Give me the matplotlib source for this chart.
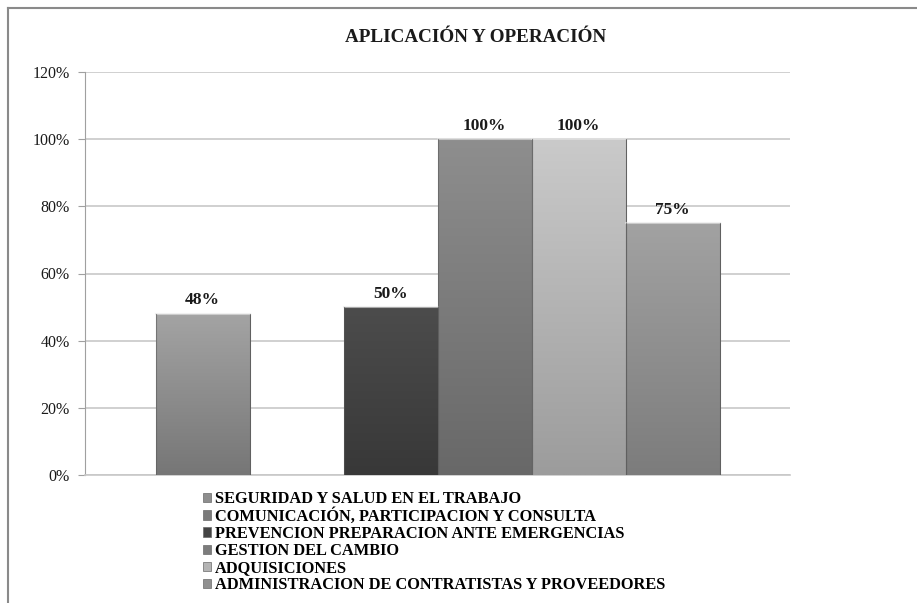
import matplotlib
matplotlib.use("Agg")
import matplotlib.pyplot as plt
import numpy as np
from matplotlib.colors import LinearSegmentedColormap
from matplotlib.lines import Line2D

title = "APLICACIÓN Y OPERACIÓN"
series = [
    "SEGURIDAD Y SALUD EN EL TRABAJO",
    "COMUNICACIÓN, PARTICIPACION Y CONSULTA",
    "PREVENCION PREPARACION ANTE EMERGENCIAS",
    "GESTION DEL CAMBIO",
    "ADQUISICIONES",
    "ADMINISTRACION DE CONTRATISTAS Y PROVEEDORES",
]
values = [0.48, 0.0, 0.50, 1.00, 1.00, 0.75]
labels = ["48%", "", "50%", "100%", "100%", "75%"]
top_colors = ["#a4a4a4", "#8c8c8c", "#4c4c4c", "#8e8e8e", "#cacaca", "#a2a2a2"]
bot_colors = ["#767676", "#6a6a6a", "#383838", "#686868", "#9c9c9c", "#7c7c7c"]
legend_colors = ["#8e8e8e", "#7a7a7a", "#444444", "#7c7c7c", "#b4b4b4", "#909090"]
yticks = [0, 0.2, 0.4, 0.6, 0.8, 1.0, 1.2]
ytick_labels = ["0%", "20%", "40%", "60%", "80%", "100%", "120%"]

plt.rcParams['font.family'] = ['Liberation Serif', 'DejaVu Serif']

fig = plt.figure(figsize=(9.17, 6.03), dpi=100)
ax = fig.add_axes([85/917, 1-475/603, (790-85)/917, (475-72)/603])

n = len(values)
w = 1.0
xs = np.arange(n) - (n-1)/2
bars = ax.bar(xs, values, width=w, color=legend_colors, edgecolor="#5a5a5a",
              linewidth=0.6, zorder=3)

grad = np.linspace(1, 0, 256).reshape(-1, 1)
for b, tc, bc in zip(bars, top_colors, bot_colors):
    h = b.get_height()
    if h <= 0:
        continue
    cmap = LinearSegmentedColormap.from_list("g", [bc, tc])
    x0 = b.get_x()
    im = ax.imshow(grad, extent=[x0, x0 + b.get_width(), 0, h], aspect="auto",
                   cmap=cmap, origin="upper", zorder=3.5, vmin=0, vmax=1)
    im.set_clip_path(b)
    ax.plot([x0, x0 + b.get_width()], [h, h], color="#e8e8e8", lw=1.5, alpha=0.6, zorder=4)
    ax.plot([x0, x0], [0, h], color="#5a5a5a", lw=0.8, alpha=0.6, zorder=4)
    ax.plot([x0 + b.get_width()] * 2, [0, h], color="#5a5a5a", lw=0.8, alpha=0.6, zorder=4)

for b, lab in zip(bars, labels):
    if lab:
        ax.annotate(lab, (b.get_x() + b.get_width()/2, b.get_height()),
                    xytext=(0, 4), textcoords="offset points", ha="center", va="bottom",
                    fontsize=12.5, fontweight="bold", color="#1a1a1a")

ax.set_xlim(-3.75, 3.75)
ax.set_ylim(0, 1.2)
ax.set_yticks(yticks)
ax.set_yticklabels(ytick_labels, fontsize=11.5)
ax.set_xticks([])
ax.yaxis.grid(True, color="#c8c8c8", linewidth=1.2, zorder=0)
ax.set_axisbelow(True)
for s in ["top", "right"]:
    ax.spines[s].set_visible(False)
ax.spines["left"].set_color("#a0a0a0")
ax.spines["bottom"].set_color("#c8c8c8")
ax.spines["bottom"].set_linewidth(1.2)
ax.tick_params(axis="y", length=5, color="#a0a0a0", pad=6, labelcolor="#1a1a1a")

fig.text(476/917, 1 - 38/603, title, ha="center", va="center",
         fontsize=13.8, fontweight="bold", color="#1a1a1a")

handles = [plt.Rectangle((0, 0), 1, 1, facecolor=c, edgecolor="#6a6a6a", linewidth=0.5)
           for c in legend_colors]
leg = fig.legend(handles, series, loc="upper left", bbox_to_anchor=(203/917, 1-491/603),
                 frameon=False, prop={"family": "Liberation Serif", "weight": "bold", "size": 11.8},
                 handlelength=0.5, handleheight=0.5, handletextpad=0.25, labelspacing=0.07,
                 borderpad=0, borderaxespad=0)

fig.add_artist(Line2D([8/917, 1], [1-8/603, 1-8/603], transform=fig.transFigure,
                      color="#8a8a8a", linewidth=1.5))
fig.add_artist(Line2D([8/917, 8/917], [0, 1-8/603], transform=fig.transFigure,
                      color="#8a8a8a", linewidth=1.5))

fig.savefig("out.png", dpi=100)
